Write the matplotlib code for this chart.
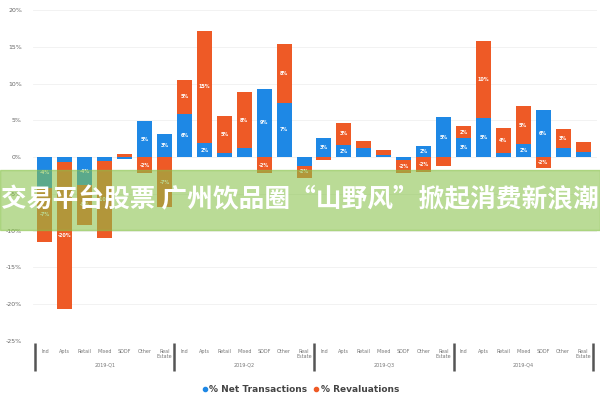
import matplotlib
matplotlib.use("Agg")
import matplotlib.pyplot as plt
from matplotlib.lines import Line2D
from matplotlib.patches import Rectangle

# values, in % (4 quarters x 7 sectors)
quarters = ["2019-Q1", "2019-Q2", "2019-Q3", "2019-Q4"]
sectors = ["Ind", "Apts", "Retail", "Mixed", "SDDF", "Other", "Real\nEstate"]
net_transactions = [
    -4.2, -0.7, -3.8, -0.5, -0.3, 4.9, 3.1,
    5.9, 1.9, 0.5, 1.2, 9.3, 7.4, -1.2,
    2.6, 1.6, 1.3, 0.3, -0.4, 1.5, 5.4,
    2.6, 5.3, 0.5, 1.8, 6.4, 1.2, 0.7,
]
revaluations = [
    -7.3, -20.0, -5.4, -10.5, 0.4, -2.2, -6.8,
    4.6, 15.3, 5.1, 7.6, -2.2, 8.0, -1.6,
    -0.4, 3.1, 0.9, 0.7, -1.8, -2.0, -1.2,
    1.6, 10.5, 3.5, 5.1, -1.5, 2.6, 1.4,
]
yticks = [20, 15, 10, 5, 0, -5, -10, -15, -20, -25]
banner = "交易平台股票 广州饮品圈“山野风”掀起消费新浪潮"

BLUE = "#1e88e5"
ORANGE = "#ee5a26"

fig = plt.figure(figsize=(6, 4), dpi=100)
ax = fig.add_axes([0.055, 0.1475, 0.94, 0.8275])

x = list(range(len(net_transactions)))
orange_base = [b if (b < 0) == (r < 0) else 0 for b, r in zip(net_transactions, revaluations)]
ax.bar(x, net_transactions, width=0.75, color=BLUE, zorder=2)
ax.bar(x, revaluations, width=0.75, bottom=orange_base, color=ORANGE, zorder=2)

for i, (b, r, base) in enumerate(zip(net_transactions, revaluations, orange_base)):
    for v, y0 in ((b, 0), (r, base)):
        if abs(v) >= 1.5:
            ax.text(i, y0 + v / 2, f"{round(v)}%", ha="center", va="center",
                    fontsize=3.5, color="white", fontweight="bold", zorder=3)

ax.set_ylim(-25, 20)
ax.set_xlim(-0.6, 27.7)
ax.set_yticks(yticks)
ax.set_yticklabels([f"{t}%" for t in yticks], fontsize=4.5, color="#666666")
ax.tick_params(axis="y", length=0, pad=8)
ax.set_xticks([])
ax.grid(axis="y", color="#f0f0f0", lw=0.6, zorder=0)
for s in ax.spines.values():
    s.set_visible(False)

# sector labels, quarter labels and group separators below the axes
trans = ax.get_xaxis_transform()
for i in x:
    ax.text(i, -0.025, sectors[i % 7], transform=trans, ha="center", va="top",
            fontsize=3.5, color="#777777", linespacing=0.9)
for q, name in enumerate(quarters):
    ax.text(q * 7 + 3, -0.065, name, transform=trans, ha="center", va="top",
            fontsize=3.5, color="#777777")
for q in range(5):
    ax.plot([q * 7 - 0.5] * 2, [-0.005, -0.09], transform=trans, color="#555555",
            lw=1.8, clip_on=False, solid_capstyle="butt")

handles = [
    Line2D([], [], marker="o", ls="", color=BLUE, markersize=3),
    Line2D([], [], marker="o", ls="", color=ORANGE, markersize=3),
]
leg = fig.legend(handles, ["% Net Transactions", "% Revaluations"], loc="center",
                 bbox_to_anchor=(0.5, 0.025), ncol=2, frameon=False, fontsize=6.5,
                 handletextpad=0.1, columnspacing=0.6, handlelength=0.8)
for t in leg.get_texts():
    t.set_color("#444444")
    t.set_fontweight("bold")

# green banner with white caption across the middle
fig.patches.append(Rectangle((0, 0.425), 1, 0.15, transform=fig.transFigure,
                             color="#88c24a", alpha=0.58, zorder=5))
fig.text(0.5, 0.5, banner, ha="center", va="center", fontsize=18.5, color="white",
         fontweight="bold", family=["Noto Sans CJK SC", "DejaVu Sans"], zorder=6)

fig.savefig("out.png", dpi=100)
